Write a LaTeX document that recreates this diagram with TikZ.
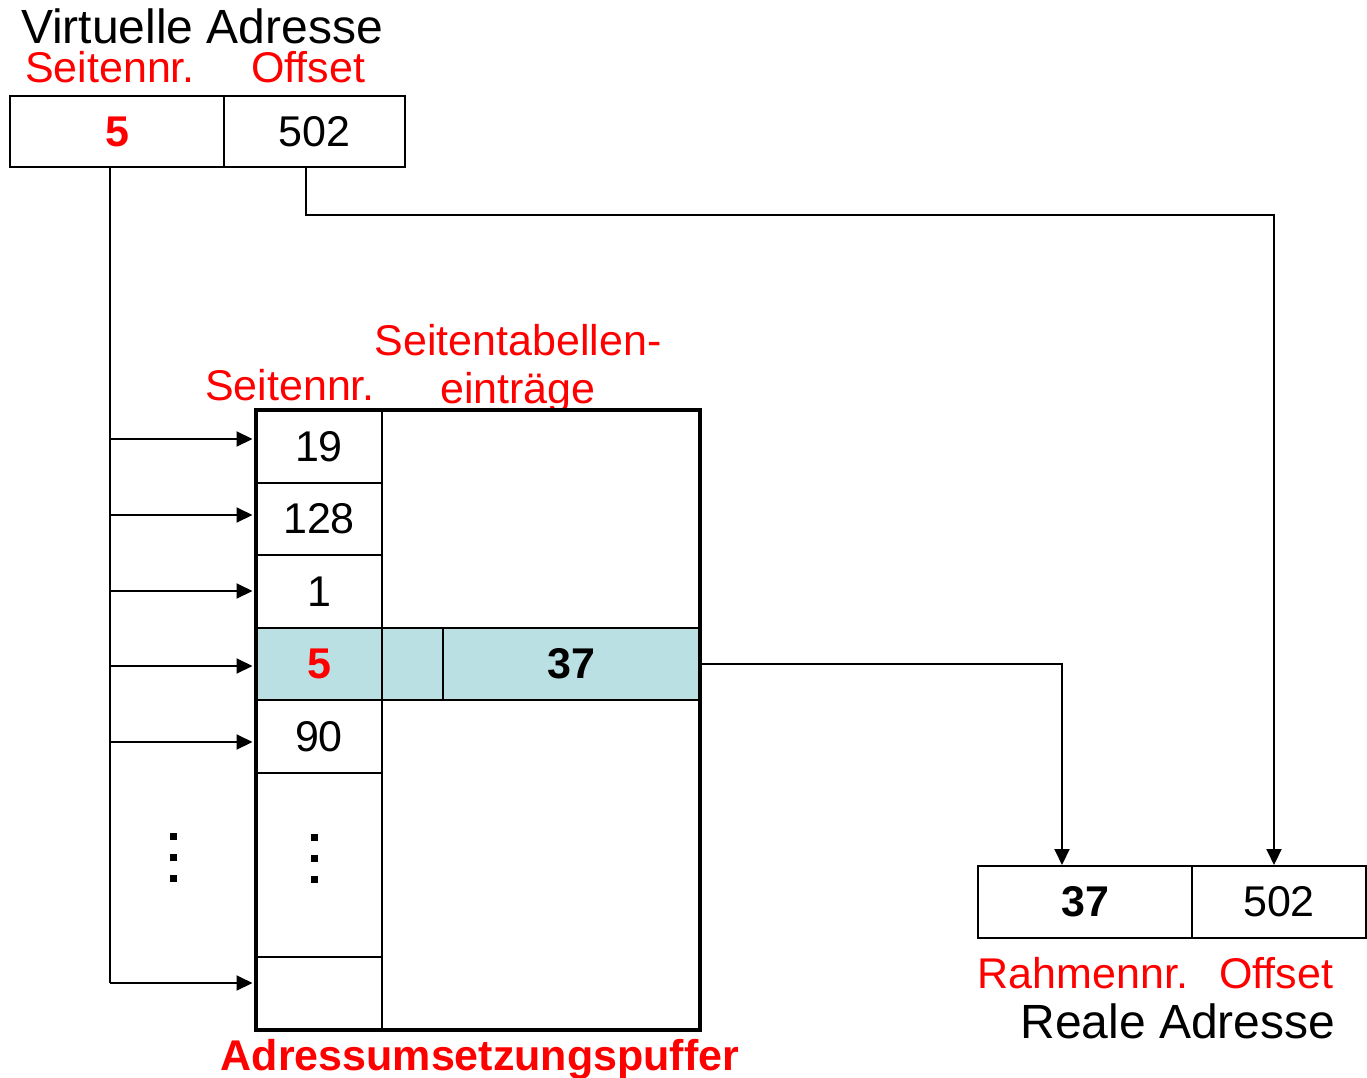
\documentclass[tikz,border=0pt]{standalone}
\usepackage{fontspec}
\setmainfont{Liberation Sans}
\usetikzlibrary{arrows.meta}
\definecolor{hl}{HTML}{BBE0E3}
\definecolor{rd}{HTML}{FF0000}
\tikzset{
 cell/.style={draw, line width=2pt, inner sep=0pt, font=\fontsize{43}{51}\selectfont},
 lbl/.style={inner sep=0pt, anchor=base, text=rd, font=\fontsize{43}{51}\selectfont},
 ttl/.style={inner sep=0pt, anchor=base, font=\fontsize{48}{56}\selectfont},
 conn/.style={line width=2pt},
 arr/.style={conn, -{Triangle[length=16pt,width=15pt]}},
 dotsq/.style={fill, minimum size=7pt, inner sep=0pt},
}
\begin{document}
\begin{tikzpicture}[x=1pt,y=-1pt]
\useasboundingbox (0,0) rectangle (1367,1078);
% virtual address
\node[ttl] (vt) at (202,44) {Virtuelle Adresse};
\node[lbl] (vl1) at (110,83) {Seitennr.};
\node[lbl] (vl2) at (308,83) {Offset};
\node[cell, minimum width=214pt, minimum height=71pt, text=rd, font=\fontsize{43}{51}\selectfont\bfseries] (va1) at (117,131.5) {5};
\node[cell, minimum width=181pt, minimum height=71pt] (va2) at (314.5,131.5) {502};
% table labels
\node[lbl] (tl1) at (290,400) {Seitennr.};
\node[lbl] (tl2) at (518,355) {Seitentabellen-};
\node[lbl] (tl3) at (518,403) {eintr\"age};
% table rows
\node[cell, minimum width=126pt, minimum height=73pt] (r1) at (319,446.5) {19};
\node[cell, minimum width=126pt, minimum height=72pt] (r2) at (319,519) {128};
\node[cell, minimum width=126pt, minimum height=73pt] (r3) at (319,591.5) {1};
\node[cell, fill=hl, minimum width=126pt, minimum height=72pt, text=rd, font=\fontsize{43}{51}\selectfont\bfseries] (r4) at (319,664) {5};
\node[cell, fill=hl, minimum width=61pt, minimum height=72pt] (h2) at (412.5,664) {};
\node[cell, fill=hl, minimum width=257pt, minimum height=72pt, font=\fontsize{43}{51}\selectfont\bfseries] (h3) at (571.5,664) {37};
\node[cell, minimum width=126pt, minimum height=73pt] (r5) at (319,736.5) {90};
\node[cell, minimum width=126pt, minimum height=184pt] (r6) at (319,865) {};
\node[cell, minimum width=126pt, minimum height=73pt] (r7) at (319,993.5) {};
\node[draw, line width=4.5pt, minimum width=444pt, minimum height=620pt, inner sep=0pt] (tlb) at (478,720) {};
\node[lbl, font=\fontsize{43}{51}\selectfont\bfseries] (tname) at (480,1070) {Adressumsetzungspuffer};
% dots
\node[dotsq] (d1) at (314,837) {};
\node[dotsq] (d2) at (314,858) {};
\node[dotsq] (d3) at (314,879) {};
\node[dotsq] (e1) at (173,836) {};
\node[dotsq] (e2) at (173,857) {};
\node[dotsq] (e3) at (173,878) {};
% real address
\node[cell, minimum width=214pt, minimum height=72pt, font=\fontsize{43}{51}\selectfont\bfseries] (ra1) at (1085,902) {37};
\node[cell, minimum width=174pt, minimum height=72pt] (ra2) at (1279,902) {502};
\node[lbl] (rl1) at (1083,988) {Rahmennr.};
\node[lbl] (rl2) at (1276,988) {Offset};
\node[ttl] (rt) at (1178,1038) {Reale Adresse};
% bus
\coordinate (b0) at (110,167);
\coordinate (b1) at (110,439);
\coordinate (b2) at (110,515);
\coordinate (b3) at (110,591);
\coordinate (b4) at (110,666);
\coordinate (b5) at (110,742);
\coordinate (b6) at (110,983);
\draw[conn] (b0) -- (b6);
\draw[arr, shorten >=2.5pt] (b1) -- (b1 -| r1.west);
\draw[arr, shorten >=2.5pt] (b2) -- (b2 -| r2.west);
\draw[arr, shorten >=2.5pt] (b3) -- (b3 -| r3.west);
\draw[arr, shorten >=2.5pt] (b4) -- (b4 -| r4.west);
\draw[arr, shorten >=2.5pt] (b5) -- (b5 -| r5.west);
\draw[arr, shorten >=2.5pt] (b6) -- (b6 -| r7.west);
% offset path
\coordinate (o1) at (306,167);
\coordinate (o2) at (1274,215);
\draw[arr] (o1) |- (o2) -- (o2 |- ra2.north);
% frame path
\coordinate (f1) at (1062,0);
\draw[arr] (h3.east) -| (f1 |- ra1.north);
\end{tikzpicture}
\end{document}
